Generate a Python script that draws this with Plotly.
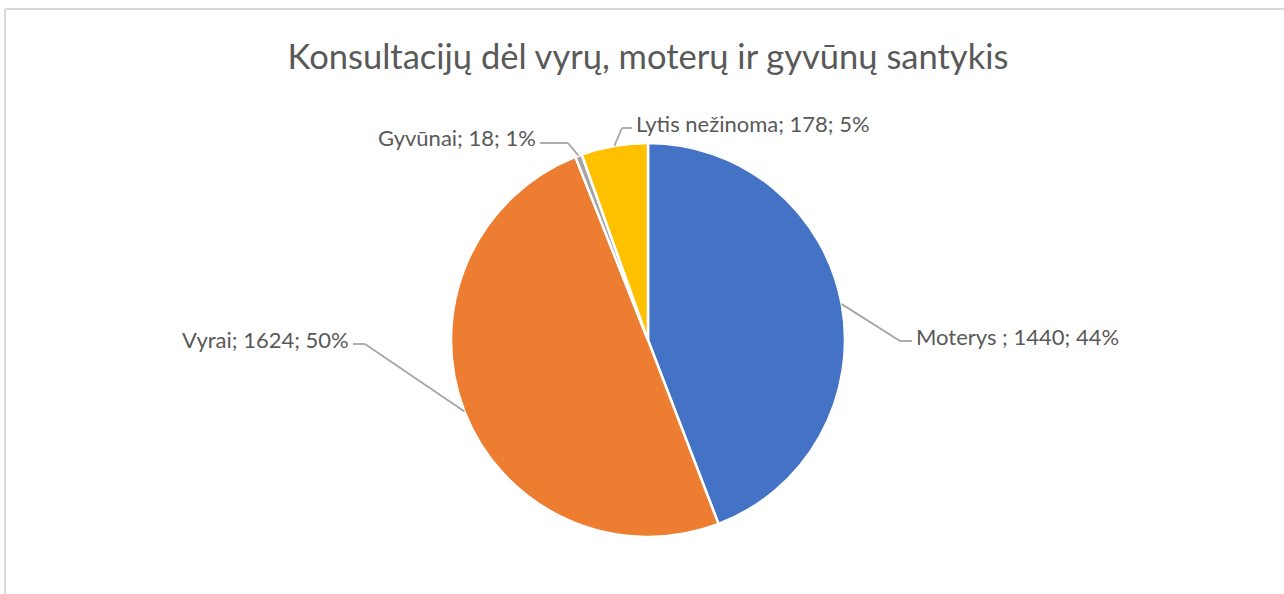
import math
import plotly.graph_objects as go

# ---- data ----
categories = ["Moterys ", "Vyrai", "Gyvūnai", "Lytis nežinoma"]
values = [1440, 1624, 18, 178]
colors = ["#4472C4", "#ED7D31", "#A5A5A5", "#FFC000"]
title_text = "Konsultacijų dėl vyrų, moterų ir gyvūnų santykis"

# ---- layout constants (pixels) ----
W, H = 1284, 594
CX, CY, R = 648, 340, 197
# label placement: elbow point, end of horizontal segment, text anchor side
label_layout = [
    dict(elbow=(900, 341), end=(912, 341), anchor="left"),
    dict(elbow=(365, 344), end=(353, 344), anchor="right"),
    dict(elbow=(568, 143), end=(540, 143), anchor="right"),
    dict(elbow=(622, 128), end=(632, 128), anchor="left"),
]

def px(x):
    return x / W

def py(y):
    return 1 - y / H

total = sum(values)
fig = go.Figure()
fig.add_trace(go.Pie(
    labels=categories, values=values, sort=False, direction="clockwise",
    rotation=0, marker=dict(colors=colors, line=dict(color="white", width=2.5)),
    textinfo="none", hoverinfo="label+value+percent", showlegend=False,
    domain=dict(x=[px(CX - R), px(CX + R)], y=[py(CY + R), py(CY - R)]),
))

shapes = []
annotations = []
cum = 0
for cat, v, lay in zip(categories, values, label_layout):
    mid = (cum + v / 2) / total
    cum += v
    ang = 2 * math.pi * mid
    ax = CX + R * math.sin(ang)
    ay = CY - R * math.cos(ang)
    ex, ey = lay["elbow"]
    tx, ty = lay["end"]
    line = dict(color="#A6A6A6", width=1.8)
    shapes.append(dict(type="line", xref="paper", yref="paper",
                       x0=px(ax), y0=py(ay), x1=px(ex), y1=py(ey), line=line))
    shapes.append(dict(type="line", xref="paper", yref="paper",
                       x0=px(ex), y0=py(ey), x1=px(tx), y1=py(ty), line=line))
    pct = round(100 * v / total)
    text = f"{cat}; {v}; {pct}%"
    gap = 2 if lay["anchor"] == "left" else -2
    annotations.append(dict(
        text=text, xref="paper", yref="paper", x=px(tx + gap), y=py(ty - 5),
        xanchor=lay["anchor"], yanchor="middle", showarrow=False,
        font=dict(family="Lato", size=22, color="#595959"),
    ))

# chart border (top and left edges visible)
border = dict(color="#D9D9D9", width=2)
shapes.append(dict(type="line", xref="paper", yref="paper",
                   x0=px(5), y0=0, x1=px(5), y1=py(9), line=border))
shapes.append(dict(type="line", xref="paper", yref="paper",
                   x0=px(5), y0=py(9), x1=1, y1=py(9), line=border))

fig.update_layout(
    width=W, height=H, margin=dict(l=0, r=0, t=0, b=0),
    paper_bgcolor="white", plot_bgcolor="white",
    title=dict(text=title_text, x=px(648), xanchor="center", y=py(57), yanchor="middle",
               font=dict(family="Lato", size=34.5, color="#595959")),
    shapes=shapes, annotations=annotations,
)

fig.write_html("out.html", config={"displayModeBar": False},
               post_script="document.body.style.margin='0';document.body.style.overflow='hidden';")
